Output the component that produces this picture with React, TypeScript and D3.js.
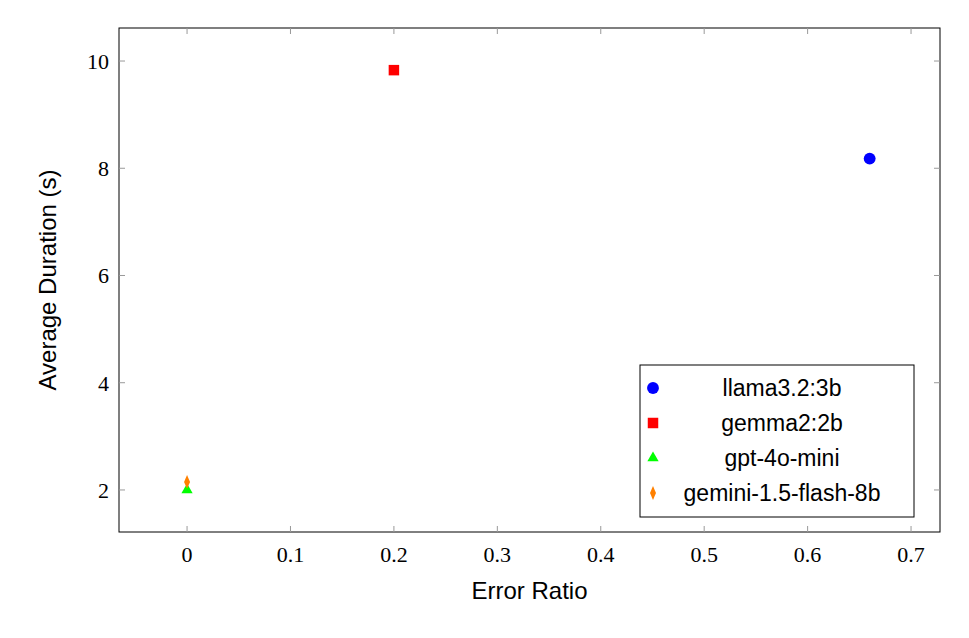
import React from "react";
import * as d3 from "d3";

const models = ["llama3.2:3b", "gemma2:2b", "gpt-4o-mini", "gemini-1.5-flash-8b"];
const errorRatio = [0.66, 0.2, 0.0, 0.0];
const avgDuration = [8.18, 9.83, 2.0, 2.15];
const colors = ["#0000ff", "#ff0000", "#00ff00", "#ff8000"];
const shapes = [d3.symbolCircle, d3.symbolSquare, d3.symbolTriangle, d3.symbolDiamond];
const xTicks = [0, 0.1, 0.2, 0.3, 0.4, 0.5, 0.6, 0.7];
const yTicks = [2, 4, 6, 8, 10];

export default function App() {
  const L = 119, R = 940, T = 28, B = 532;
  const x = d3.scaleLinear().domain([-0.0658, 0.728]).range([L, R]);
  const y = d3.scaleLinear().domain([1.216, 10.616]).range([B, T]);
  const sizes = [110, 110, 55, 55];
  const serif = "'Liberation Serif','Times New Roman',serif";
  const sans = "'Liberation Sans',Arial,sans-serif";
  const marker = (i: number, tx: number, ty: number, key: string) => (
    <path key={key} d={d3.symbol(shapes[i], sizes[i])()!}
      transform={`translate(${tx},${ty})${i === 3 ? " scale(0.75,1)" : ""}`} fill={colors[i]} />
  );
  return (
    <svg width={969} height={638} style={{ position: "absolute", left: 0, top: 0, background: "#fff" }}>
      <rect x={L} y={T} width={R - L} height={B - T} fill="none" stroke="#000" strokeWidth={1} />
      {xTicks.map(t => (
        <g key={"x" + t}>
          <line x1={x(t)} x2={x(t)} y1={B} y2={B - 6} stroke="#999" />
          <line x1={x(t)} x2={x(t)} y1={T} y2={T + 6} stroke="#999" />
          <text x={x(t)} y={B + 30} textAnchor="middle" fontFamily={serif} fontSize={22}>{t}</text>
        </g>
      ))}
      {yTicks.map(t => (
        <g key={"y" + t}>
          <line x1={L} x2={L + 6} y1={y(t)} y2={y(t)} stroke="#999" />
          <line x1={R} x2={R - 6} y1={y(t)} y2={y(t)} stroke="#999" />
          <text x={L - 10} y={y(t) + 8} textAnchor="end" fontFamily={serif} fontSize={22}>{t}</text>
        </g>
      ))}
      <text x={(L + R) / 2} y={599} textAnchor="middle" fontFamily={sans} fontSize={24}>Error Ratio</text>
      <text transform={`translate(56,${(T + B) / 2}) rotate(-90)`} textAnchor="middle" fontFamily={sans} fontSize={24}>Average Duration (s)</text>
      {models.map((m, i) => marker(i, x(errorRatio[i]), y(avgDuration[i]), m))}
      <rect x={640} y={365} width={274} height={152} fill="#fff" stroke="#000" />
      {models.map((m, i) => {
        const ly = 388 + i * 35;
        return (
          <g key={"l" + m}>
            {marker(i, 653, ly, "m" + m)}
            <text x={782} y={ly + 8} textAnchor="middle" fontFamily={sans} fontSize={23}>{m}</text>
          </g>
        );
      })}
    </svg>
  );
}
